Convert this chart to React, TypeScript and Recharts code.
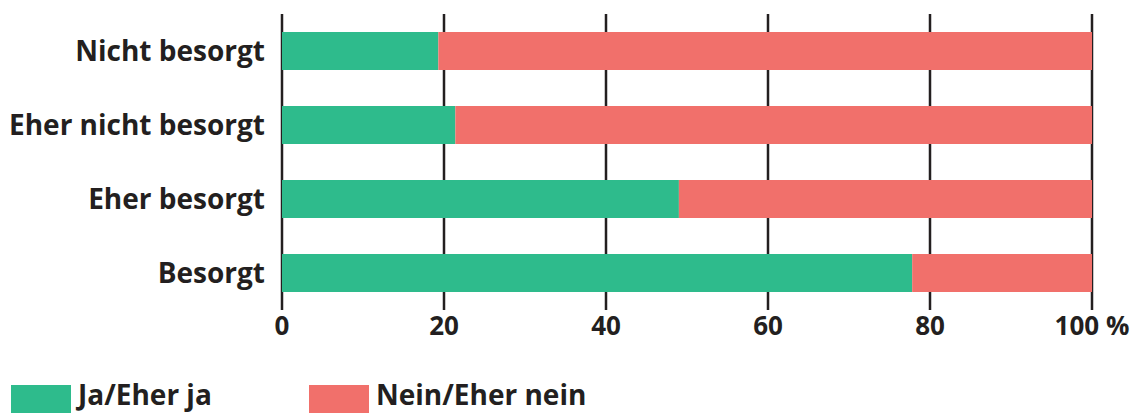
import { BarChart, Bar, XAxis, YAxis, CartesianGrid } from 'recharts'

const categories = ['Nicht besorgt', 'Eher nicht besorgt', 'Eher besorgt', 'Besorgt']
const jaValues = [19.3, 21.4, 49.0, 77.8]
const neinValues = [80.7, 78.6, 51.0, 22.2]
const xTicks = [0, 20, 40, 60, 80, 100]

const GREEN = '#2ebb8c'
const RED = '#f1706b'
const INK = '#231f20'
const FONT = '"Open Sans", sans-serif'

const data = categories.map((name, i) => ({
  name,
  ja: jaValues[i],
  nein: neinValues[i],
}))

function LegendItem({ color, label, left }: { color: string; label: string; left: number }) {
  return (
    <div style={{ position: 'absolute', left, top: 385, display: 'flex', alignItems: 'flex-start' }}>
      <div style={{ width: 60, height: 28, background: color }} />
      <span
        style={{
          marginLeft: 7,
          fontSize: 28,
          fontWeight: 700,
          color: INK,
          lineHeight: '28px',
          position: 'relative',
          top: -5,
          whiteSpace: 'nowrap',
        }}
      >
        {label}
      </span>
    </div>
  )
}

export default function App() {
  return (
    <div style={{ position: 'absolute', left: 0, top: 0, width: 1134, height: 414, background: '#fff', fontFamily: FONT, overflow: 'hidden' }}>
      <BarChart
        width={1134}
        height={414}
        data={data}
        layout="vertical"
        margin={{ top: 14, right: 42, left: 0, bottom: 0 }}
      >
        <CartesianGrid horizontal={false} stroke={INK} strokeWidth={2.5} />
        <XAxis
          type="number"
          domain={[0, 100]}
          ticks={xTicks}
          height={104}
          axisLine={false}
          tickLine={false}
          tickSize={5}
          tickFormatter={(v: number) => (v === 100 ? '100 %' : String(v))}
          tick={{ fontSize: 26, fontWeight: 700, fill: INK, fontFamily: FONT }}
        />
        <YAxis
          type="category"
          dataKey="name"
          width={282}
          axisLine={false}
          tickLine={false}
          tickMargin={11}
          tick={{ fontSize: 28, fontWeight: 700, fill: INK, fontFamily: FONT }}
        />
        <Bar dataKey="ja" stackId="a" fill={GREEN} barSize={38} isAnimationActive={false} />
        <Bar dataKey="nein" stackId="a" fill={RED} barSize={38} isAnimationActive={false} />
      </BarChart>
      <LegendItem color={GREEN} label="Ja/Eher ja" left={11} />
      <LegendItem color={RED} label="Nein/Eher nein" left={309} />
    </div>
  )
}
